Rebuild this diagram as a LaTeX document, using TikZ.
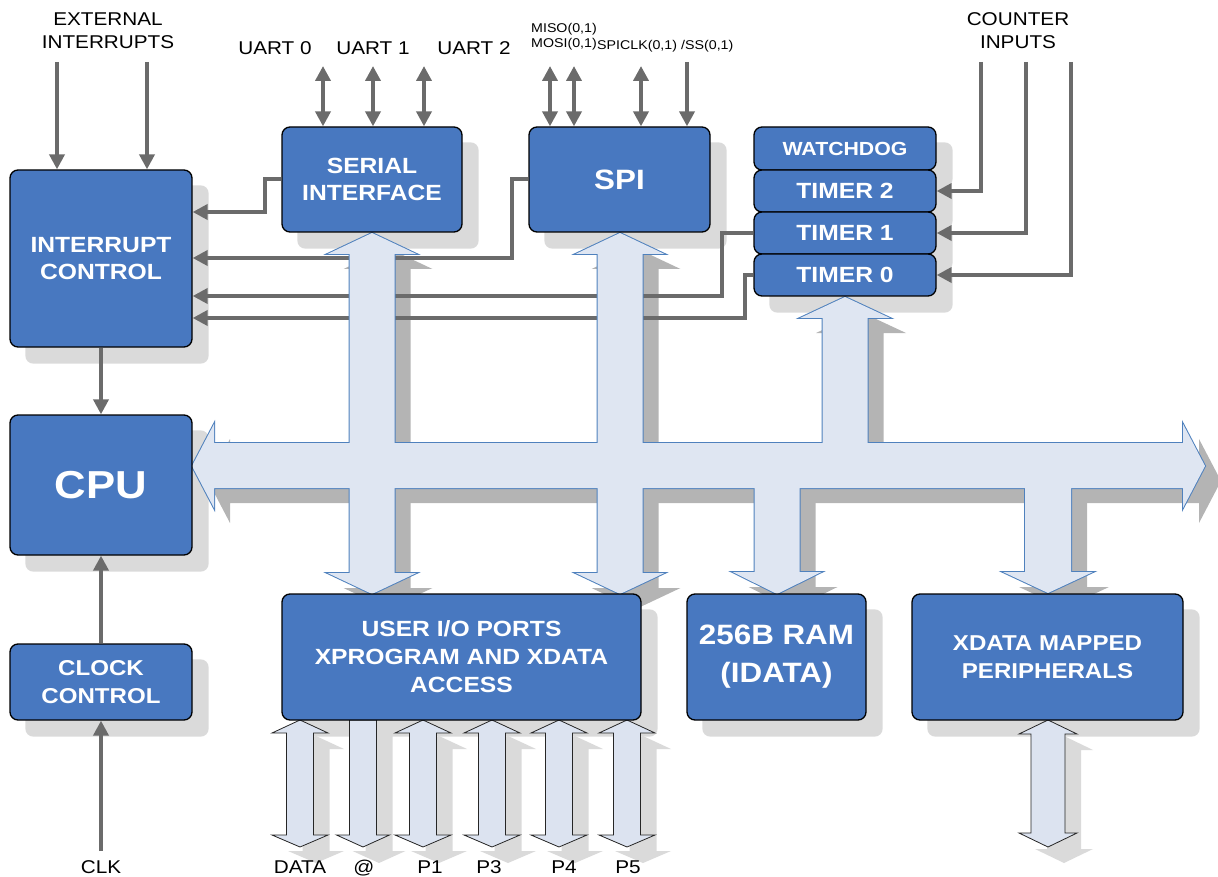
\documentclass[tikz,border=0pt]{standalone}
\usepackage{fontspec}
\newfontfamily\lsans{Liberation Sans}[FakeStretch=1.12]
\usetikzlibrary{arrows.meta}
\definecolor{boxblue}{HTML}{4878C0}
\definecolor{busfill}{HTML}{DFE6F2}
\definecolor{busline}{HTML}{4F81BD}
\definecolor{iofill}{HTML}{DCE3F0}
\definecolor{boxshadow}{HTML}{DADADA}
\definecolor{busshadow}{HTML}{B4B4B4}
\definecolor{wiregray}{HTML}{6B6B6B}
\pgfdeclarelayer{shad}
\pgfdeclarelayer{bshad}
\pgfdeclarelayer{wires}
\pgfdeclarelayer{bus}
\pgfsetlayers{shad,bshad,wires,bus,main}
% double vertical arrow: opts, cx, tip1, base1, base2, tip2, shaft half, head half
\newcommand\dblV[8]{\path[#1] (#2,#3) -- ({#2+#8},#4) -- ({#2+#7},#4) -- ({#2+#7},#5) -- ({#2+#8},#5) -- (#2,#6) -- ({#2-#8},#5) -- ({#2-#7},#5) -- ({#2-#7},#4) -- ({#2-#8},#4) -- cycle;}
% down arrow: opts, cx, top, base, tip, shaft half, head half
\newcommand\downV[7]{\path[#1] ({#2-#6},#3) -- ({#2+#6},#3) -- ({#2+#6},#4) -- ({#2+#7},#4) -- (#2,#5) -- ({#2-#7},#4) -- ({#2-#6},#4) -- cycle;}
% up arrow: opts, cx, tip, base, bottom, shaft half, head half
\newcommand\upV[7]{\path[#1] (#2,#3) -- ({#2+#7},#4) -- ({#2+#6},#4) -- ({#2+#6},#5) -- ({#2-#6},#5) -- ({#2-#6},#4) -- ({#2-#7},#4) -- cycle;}
\newcommand\busall[1]{%
  \path[#1] (192,466) -- (214,424) -- (214,443) -- (1183,443) -- (1183,424) -- (1205,466) -- (1183,508) -- (1183,488) -- (214,488) -- (214,508) -- cycle;
  \dblV{#1}{372}{233}{254}{573}{594}{22.5}{44.5}
  \dblV{#1}{620}{233}{254}{573}{594}{22.5}{44.5}
  \upV{#1}{845}{297}{318}{466}{22.5}{45}
  \downV{#1}{777}{466}{572}{594}{22.5}{44.5}
  \downV{#1}{1048}{466}{572}{593}{23}{45}}
\newcommand\ioarrows[1]{%
  \foreach \cx in {300,423,492,559,627} {\dblV{#1}{\cx}{720}{733}{835}{847}{13.5}{28}}
  \downV{#1}{363}{720}{835}{847}{13.5}{26.5}
  \dblV{#1}{1048}{720}{734}{833}{847}{17}{29}}
\begin{document}
\begin{tikzpicture}[x=1pt,y=-1pt,
  box/.style={draw=black, line width=1.3pt, fill=boxblue, rounded corners=8pt, text=white, align=center, inner sep=0pt},
  bt/.style 2 args={font=\lsans\bfseries\fontsize{#1}{#2}\selectfont},
  lab/.style={font=\lsans\fontsize{18.5}{23}\selectfont, align=center, inner sep=0pt},
  sml/.style={font=\lsans\fontsize{12.7}{15}\selectfont, inner sep=0pt, anchor=base west},
  wire/.style={draw=wiregray, line width=4pt, -{Triangle[length=15pt,width=15pt]}},
  wire2/.style={draw=wiregray, line width=4pt, {Triangle[length=15pt,width=15pt]}-{Triangle[length=15pt,width=15pt]}}]
\useasboundingbox (0,0) rectangle (1218,877);

% boxes
\node[box, bt={22}{27}, minimum width=182pt, minimum height=177pt] (intc) at (101,258.5) {INTERRUPT\\CONTROL};
\node[box, bt={22}{27}, minimum width=180pt, minimum height=105pt] (serial) at (372,179.5) {SERIAL\\INTERFACE};
\node[box, bt={28}{34}, minimum width=181pt, minimum height=105pt] (spi) at (619.5,179.5) {SPI};
\node[box, bt={19}{23}, minimum width=182pt, minimum height=43pt] (wdog) at (845,148.5) {WATCHDOG};
\node[box, bt={22}{27}, minimum width=182pt, minimum height=42pt] (t2) at (845,191) {TIMER 2};
\node[box, bt={22}{27}, minimum width=182pt, minimum height=42pt] (t1) at (845,233) {TIMER 1};
\node[box, bt={22}{27}, minimum width=182pt, minimum height=42pt] (t0) at (845,275) {TIMER 0};
\node[box, bt={39}{46}, minimum width=182pt, minimum height=140pt] (cpu) at (101,485) {CPU};
\node[box, bt={21.5}{28}, minimum width=182pt, minimum height=76pt] (clk) at (101,682) {CLOCK\\CONTROL};
\node[box, bt={22}{28}, minimum width=359pt, minimum height=126pt] (io) at (461.5,657) {USER I/O PORTS\\XPROGRAM AND XDATA\\ACCESS};
\node[box, bt={28}{38}, minimum width=179pt, minimum height=126pt] (ram) at (776.5,657) {256B RAM\\(IDATA)};
\node[box, bt={21.5}{28}, minimum width=271pt, minimum height=126pt] (xdata) at (1047.5,657) {XDATA MAPPED\\PERIPHERALS};

% box shadows
\begin{pgfonlayer}{shad}
\foreach \n in {intc,serial,spi,wdog,t2,t1,t0,cpu,clk,io,ram,xdata}
  \fill[boxshadow, rounded corners=8pt] ([shift={(16,16)}]\n.south west) rectangle ([shift={(16,16)}]\n.north east);
\begin{scope}[shift={(16,16)}]
  \ioarrows{fill=boxshadow}
\end{scope}
\end{pgfonlayer}

% bus
\begin{pgfonlayer}{bshad}
\begin{scope}[shift={(16,15)}]
  \busall{fill=busshadow}
\end{scope}
\end{pgfonlayer}
\begin{pgfonlayer}{bus}
  \busall{draw=busline, line width=2pt}
  \busall{fill=busfill}
  \ioarrows{draw=black!85, line width=0.8pt, fill=iofill}
\end{pgfonlayer}

% labels
\node[lab] (extlab) at (108,31) {EXTERNAL\\INTERRUPTS};
\node[lab] (cntlab) at (1018,31) {COUNTER\\INPUTS};
\node[lab, anchor=base] (u0lab) at (275,55) {UART 0};
\node[lab, anchor=base] (u1lab) at (373,55) {UART 1};
\node[lab, anchor=base] (u2lab) at (474,55) {UART 2};
\node[sml] (misolab) at (531,33) {MISO(0,1)};
\node[sml] (mosilab) at (531,48) {MOSI(0,1)};
\node[sml] (sclklab) at (597,50) {SPICLK(0,1)};
\node[sml] (sslab) at (681,50) {/SS(0,1)};
\node[lab, anchor=base] (datalab) at (300,873) {DATA};
\node[lab, anchor=base] (atlab) at (364,873) {@};
\node[lab, anchor=base] (p1lab) at (430,873) {P1};
\node[lab, anchor=base] (p3lab) at (489,873) {P3};
\node[lab, anchor=base] (p4lab) at (564,873) {P4};
\node[lab, anchor=base] (p5lab) at (628,873) {P5};
\node[lab, anchor=base] (clklab) at (101,873) {CLK};

% connectors
\coordinate (ei1) at (57,62);
\coordinate (ei2) at (147,62);
\coordinate (ua0) at (323,66);
\coordinate (ua1) at (373,66);
\coordinate (ua2) at (424,66);
\coordinate (miso) at (550,66);
\coordinate (mosi) at (574,66);
\coordinate (sclk) at (641,66);
\coordinate (ss) at (687,62);
\coordinate (ci2) at (981,62);
\coordinate (ci1) at (1026,62);
\coordinate (ci0) at (1071,62);
\coordinate (sv) at (265,212);
\coordinate (pv) at (512,258);
\coordinate (t1v) at (722,296);
\coordinate (t0v) at (745,318);
\coordinate (clkin) at (101,851);
\begin{pgfonlayer}{wires}
\draw[wire] (ei1) -- (ei1 |- intc.north);
\draw[wire] (ei2) -- (ei2 |- intc.north);
\draw[wire2] (ua0) -- (ua0 |- serial.north);
\draw[wire2] (ua1) -- (ua1 |- serial.north);
\draw[wire2] (ua2) -- (ua2 |- serial.north);
\draw[wire2] (miso) -- (miso |- spi.north);
\draw[wire2] (mosi) -- (mosi |- spi.north);
\draw[wire2] (sclk) -- (sclk |- spi.north);
\draw[wire] (ss) -- (ss |- spi.north);
\draw[wire] (ci2) |- (t2.east);
\draw[wire] (ci1) |- (t1.east);
\draw[wire] (ci0) |- (t0.east);
\draw[wire] (serial.west) -| (sv) -- (sv -| intc.east);
\draw[wire] (spi.west) -| (pv) -- (pv -| intc.east);
\draw[wire] (t1.west) -| (t1v) -- (t1v -| intc.east);
\draw[wire] (t0.west) -| (t0v) -- (t0v -| intc.east);
\draw[wire] (intc.south) -- (cpu.north);
\draw[wire] (clk.north) -- (cpu.south);
\draw[wire] (clkin) -- (clk.south);
\end{pgfonlayer}
\end{tikzpicture}
\end{document}
